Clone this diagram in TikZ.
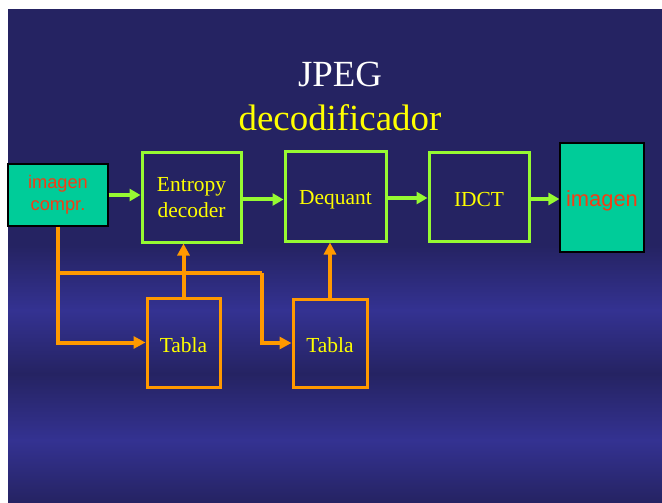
\documentclass[tikz,border=0pt]{standalone}
\usepackage{fontspec}
\setmainfont{Liberation Serif}
\newfontfamily\arialfont{Liberation Sans}
\usetikzlibrary{arrows.meta}

\definecolor{navydark}{RGB}{37,35,98}
\definecolor{navylight}{RGB}{52,50,146}
\definecolor{limegreen}{RGB}{150,250,50}
\definecolor{tealbox}{RGB}{0,204,153}
\definecolor{redtext}{RGB}{245,60,20}
\definecolor{orangeline}{RGB}{255,153,0}
\definecolor{titleyellow}{RGB}{255,255,0}

\tikzset{
  % a strut on the first line sets the text a little below the box centre
  lowtext/.style={execute at begin node={\rule{0pt}{#1}}},
  stage/.style={draw=limegreen, line width=3bp, text=titleyellow,
    font=\fontsize{21.5}{26}\selectfont, align=center, inner sep=0pt,
    lowtext=0.94em},
  tablebox/.style={draw=orangeline, line width=3bp, text=titleyellow,
    font=\fontsize{21.5}{24}\selectfont, inner sep=0pt, lowtext=0.94em},
  databox/.style={draw=black, line width=1.2bp, fill=tealbox, text=redtext,
    align=center, inner sep=0pt, lowtext=1.04em},
  flow/.style={draw=limegreen, line width=4bp,
    -{Triangle[length=11bp,width=12bp]}},
  tableflow/.style={draw=orangeline, line width=4bp,
    -{Triangle[length=12bp,width=12bp]}},
  tableline/.style={draw=orangeline, line width=4bp},
}

\begin{document}
\begin{tikzpicture}[x=1bp, y=-1bp]
  % page and slide background
  \fill[white] (0,0) rectangle (662,503);
  \useasboundingbox (0,0) rectangle (662,503);
  \fill[navydark] (8,9) rectangle (662,246);
  \shade[top color=navydark, bottom color=navylight] (8,245) rectangle (662,311);
  \shade[top color=navylight, bottom color=navydark] (8,310) rectangle (662,374);
  \shade[top color=navydark, bottom color=navylight] (8,373) rectangle (662,441);
  \shade[top color=navylight, bottom color=navydark] (8,440) rectangle (662,503);

  % title
  \node[text=white, font=\fontsize{37}{40}\selectfont] (title) at (340,74) {JPEG};
  \node[text=titleyellow, font=\fontsize{37}{40}\selectfont] (subtitle) at (340,118) {decodificador};

  % decoder chain
  \node[databox, minimum width=100bp, minimum height=62bp,
        font=\arialfont\fontsize{18.3}{22}\selectfont] (compr) at (58,195) {imagen\\compr.};
  \node[stage, minimum width=99bp, minimum height=89bp] (ent) at (191.5,197.5) {Entropy\\decoder};
  \node[stage, minimum width=101bp, minimum height=89bp] (deq) at (335.5,196.5) {Dequant};
  \node[stage, minimum width=100bp, minimum height=88bp] (idct) at (479,197) {IDCT};
  \node[databox, minimum width=84bp, minimum height=109bp,
        font=\arialfont\fontsize{22}{24}\selectfont] (img) at (602,197.5) {imagen};

  % tables
  \node[tablebox, minimum width=73bp, minimum height=89bp] (tab1) at (183.5,342.5) {Tabla};
  \node[tablebox, minimum width=74bp, minimum height=88bp] (tab2) at (330,343) {Tabla};

  % main data flow
  \draw[flow] (compr.east) -- (ent.west |- compr.east);
  \draw[flow] ([yshift=-2bp]ent.east) -- ([yshift=-2bp]ent.east -| deq.west);
  \draw[flow] ([yshift=-1.5bp]deq.east) -- ([yshift=-1.5bp]deq.east -| idct.west);
  \draw[flow] ([yshift=-2bp]idct.east) -- ([yshift=-2bp]idct.east -| img.west);

  % table signalling
  \coordinate (split) at (58,273);
  \coordinate (turn) at (262,273);
  \coordinate (low2) at (262,343);
  \draw[tableflow] (compr.south) |- (tab1.west);
  \draw[tableline] (split) -- (turn);
  \draw[tableflow] (turn) -- (low2) -- (tab2.west |- low2);
  \draw[tableflow] (tab1.north) -- (tab1.north |- ent.south);
  \draw[tableflow] (tab2.north) -- (tab2.north |- deq.south);
\end{tikzpicture}
\end{document}
